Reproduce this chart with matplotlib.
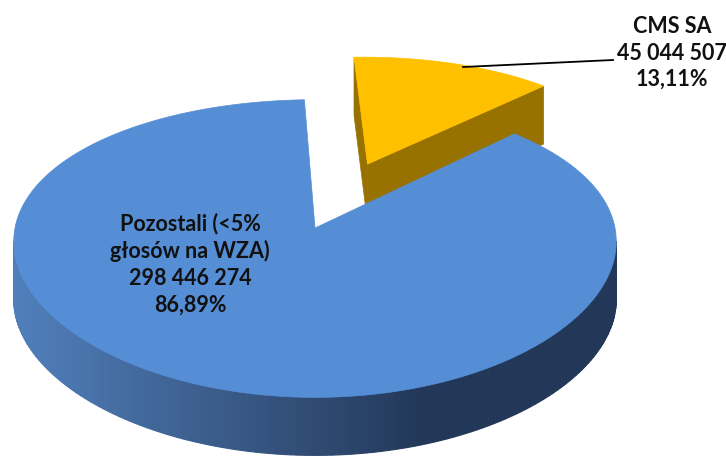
import matplotlib.pyplot as plt
import numpy as np
from matplotlib.patches import Polygon

# data
labels = ["Pozostali (<5%\ngłosów na WZA)", "CMS SA"]
votes = [298446274, 45044507]
colors_top = ["#558ed5", "#ffc000"]
color_gold_side = "#987200"

total = sum(votes)
shares = [v / total for v in votes]

# 3d look (screen pixels)
cx, cy = 315, 228
sx, sy = 300, 146
k = 0.138      # vertical perspective
kx = 0.091     # horizontal perspective
depth = 58
explode = 0.5
r_exp = 0.93
start = 45.0


def proj(X, Y, Z=0.0):
    return cx + sx * X / (1.0 + kx * Y), cy - sy * Y / (1.0 + k * Y) + Z


def arc(a0, a1, ox=0.0, oy=0.0, r=1.0, z=0.0, n=200):
    t = np.radians(np.linspace(a0, a1, n))
    xs, ys = proj(ox + r * np.cos(t), oy + r * np.sin(t), z)
    return np.column_stack([xs, ys])


def fmt(v):
    return f"{v:,}".replace(",", " ")


def pct(s):
    return f"{s * 100:.2f}%".replace(".", ",")


fig = plt.figure(figsize=(7.26, 4.59), dpi=100)
ax = fig.add_axes([0, 0, 1, 1])
ax.set_xlim(0, 726)
ax.set_ylim(459, 0)
ax.axis("off")

# angles of slices (yellow first, counterclockwise from start)
y0 = start
y1 = start + 360 * shares[1]
b0, b1 = y1, start + 360

# exploded yellow slice
mid = np.radians((y0 + y1) / 2)
ox, oy = explode * np.cos(mid), explode * np.sin(mid)
tip = proj(ox, oy)
tip_low = proj(ox, oy, depth)
for a in (y1, y0):
    ex = ox + r_exp * np.cos(np.radians(a))
    ey = oy + r_exp * np.sin(np.radians(a))
    ax.add_patch(Polygon([tip, proj(ex, ey), proj(ex, ey, depth), tip_low], closed=True,
                         fc=color_gold_side, ec=color_gold_side, lw=0.5))
ytop = np.vstack([[tip], arc(y0, y1, ox, oy, r=r_exp)])
ax.add_patch(Polygon(ytop, closed=True, fc=colors_top[1], ec=colors_top[1], lw=0.5))

# blue side with gradient, between left and right silhouette
front = np.linspace(150, 390, 2000)
fx = proj(np.cos(np.radians(front)), np.sin(np.radians(front)))[0]
aL, aR = front[np.argmin(fx)], front[np.argmax(fx)]
angs = np.linspace(aL, aR, 140)
c_left = np.array([80, 126, 186]) / 255
c_dark = np.array([35, 56, 88]) / 255
for i in range(len(angs) - 1):
    top = arc(angs[i], angs[i + 1], n=4)
    bot = arc(angs[i + 1], angs[i], z=depth, n=4)
    xm = proj(np.cos(np.radians(angs[i])), np.sin(np.radians(angs[i])))[0]
    f = min(max((xm - 20) / 400, 0), 1)
    c = c_left + (c_dark - c_left) * f
    ax.add_patch(Polygon(np.vstack([top, bot]), closed=True, fc=c, ec=c, lw=0.8))

# blue top face
btop = np.vstack([[proj(0, 0)], arc(b0, b1, n=400)])
ax.add_patch(Polygon(btop, closed=True, fc=colors_top[0], ec=colors_top[0], lw=0.5))

font = ["Lato", "DejaVu Sans"]
ax.text(190, 264, f"{labels[0]}\n{fmt(votes[0])}\n{pct(shares[0])}",
        ha="center", va="center", fontsize=15.5, fontweight="bold",
        family=font, linespacing=1.33, color="#111111")

ax.plot([463, 613], [67, 60], color="black", lw=1.3)
ax.text(672, 53, f"{labels[1]}\n{fmt(votes[1])}\n{pct(shares[1])}",
        ha="center", va="center", fontsize=15.5, fontweight="bold",
        family=font, linespacing=1.33, color="#111111")

fig.savefig("out.png", dpi=100)
